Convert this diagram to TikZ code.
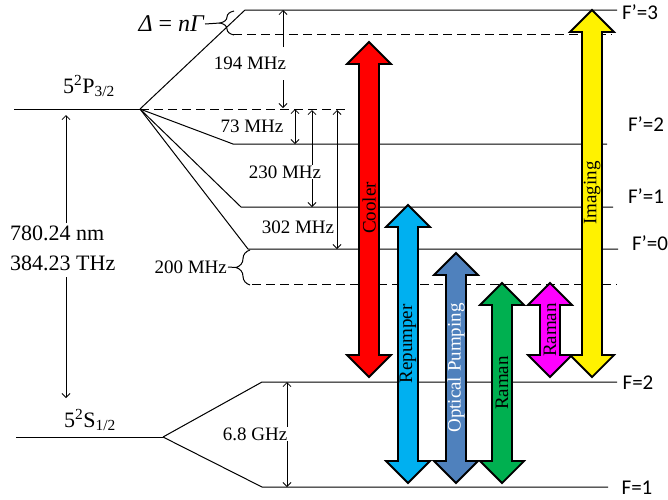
\documentclass[tikz,border=0pt]{standalone}
\usepackage{fontspec}
\setmainfont{Liberation Serif}
\newfontfamily\labfont{Carlito}
\usetikzlibrary{arrows.meta,decorations.pathreplacing}
\definecolor{repblue}{HTML}{00B0F0}
\definecolor{opblue}{HTML}{4F81BD}
\definecolor{ramgreen}{HTML}{00B050}
\definecolor{rammag}{HTML}{FF00FF}
\newcommand{\fsz}[1]{\fontsize{#1}{#1}\selectfont}
\newcommand{\blockarr}[4]{%
  \filldraw[fill=#4, draw=black, line width=1.8pt, line join=miter]
   (#1,#2) -- ++(22,22) -- ++(-12,0) -- (#1+10,#3-22) -- ++(12,0) -- (#1,#3)
   -- ++(-22,-22) -- ++(12,0) -- (#1-10,#2+22) -- ++(-12,0) -- cycle;}
\begin{document}
\begin{tikzpicture}[x=1pt,y=-1pt,
  lev/.style={line width=1pt},
  dlev/.style={line width=1pt, dash pattern=on 9pt off 5pt},
  mar/.style={line width=0.8pt,-{Straight Barb[length=4pt,width=8pt]}},
  dmar/.style={line width=0.8pt,{Straight Barb[length=4pt,width=8pt]}-{Straight Barb[length=4pt,width=8pt]}},
  lbl/.style={font=\fsz{19}, inner sep=1pt},
  big/.style={font=\fsz{22}},
  flab/.style={font=\labfont\fsz{21}, inner sep=0pt},
  atext/.style={rotate=90, font=\fsz{19}, inner sep=0pt},
  brc/.style={line width=1pt, decorate, decoration={brace, amplitude=14pt}}]

\useasboundingbox (0,0) rectangle (668,499);

% coordinates
\coordinate (P) at (140,109);
\coordinate (P0) at (14,109);
\coordinate (S) at (163,437);
\coordinate (S0) at (16,437);
\coordinate (F3a) at (245,10);  \coordinate (F3b) at (617,10);
\coordinate (Da) at (233,34);   \coordinate (Db) at (612,34);
\coordinate (Pd) at (348,109);
\coordinate (F2a) at (233,144); \coordinate (F2b) at (607,144);
\coordinate (F1a) at (241,207); \coordinate (F1b) at (613,207);
\coordinate (F0a) at (248,249); \coordinate (F0b) at (618,249);
\coordinate (Ea) at (252,284);  \coordinate (Eb) at (617,284);
\coordinate (G2a) at (262,382); \coordinate (G2b) at (617,382);
\coordinate (G1a) at (262,487); \coordinate (G1b) at (608,487);

% levels
\draw[lev] (P0) -- (P);
\draw[lev] (S0) -- (S);
\draw[lev] (P) -- (F3a) -- (F3b);
\draw[lev] (P) -- (F2a) -- (F2b);
\draw[lev] (P) -- (F1a) -- (F1b);
\draw[lev] (P) -- (F0a) -- (F0b);
\draw[dlev] (P) -- (Pd);
\draw[dlev] (Da) -- (Db);
\draw[dlev] (Ea) -- (Eb);
\draw[lev] (S) -- (G2a) -- (G2b);
\draw[lev] (S) -- (G1a) -- (G1b);

% braces
\draw[brc] (234,35) -- (234,11);
\node[font=\fsz{24}, anchor=east, inner sep=1pt] (delta) at (205,24) {{\itshape Δ} = {\itshape nΓ}};
\draw[lev] (220,23) -- (delta.east);
\draw[brc] (250,285) -- (250,250);
\node[lbl, anchor=east] (d200) at (228,267) {200 MHz};
\draw[lev] (236,267.5) -- (d200.east);

% state labels
\node[big] (p32) at (89,86) {5\textsuperscript{2}P\textsubscript{3/2}};
\node[big] (s12) at (90,420) {5\textsuperscript{2}S\textsubscript{1/2}};
\node[font=\fontsize{22}{30}\selectfont, align=left, anchor=west, inner sep=0pt] (wl) at (10,248) {780.24 nm\\384.23 THz};
\draw[mar] (66,223) -- (66,115);
\draw[mar] (66,277) -- (66,398);

% interval markers
\draw[mar] (283,47) -- (283,10);
\draw[mar] (283,80) -- (283,108);
\node[lbl] (m194) at (250,63) {194 MHz};
\draw[dmar] (295,109) -- (295,144);
\node[lbl] (m73) at (252,126) {73 MHz};
\draw[dmar] (312,110) -- (312,207);
\node[lbl, fill=white] (m230) at (285,172) {230 MHz};
\draw[dmar] (337,110) -- (337,249);
\node[lbl] (m302) at (298,227) {302 MHz};
\draw[dmar] (287,382) -- (287,487);
\node[lbl, fill=white] (m68) at (255,434) {6.8 GHz};

% block arrows
\blockarr{369}{42}{377}{red}
\blockarr{408}{205}{483}{repblue}
\blockarr{456}{253}{483}{opblue}
\blockarr{502}{283}{483}{ramgreen}
\blockarr{550}{283}{377}{rammag}
\blockarr{592}{10}{377}{yellow}
\node[atext] (tc) at (369,208) {Cooler};
\node[atext] (tr) at (408,344) {Repumper};
\node[atext, text=white] (to) at (456,368) {Optical Pumping};
\node[atext] (tg) at (502,383) {Raman};
\node[atext] (tm) at (550,330) {Raman};
\node[atext] (ti) at (592,193) {Imaging};

% hyperfine labels
\node[flab] (l3) at (640,12) {F’=3};
\node[flab] (l2) at (646,124) {F’=2};
\node[flab] (l1) at (646,196) {F’=1};
\node[flab] (l0) at (650,243) {F’=0};
\node[flab] (k2) at (638,383) {F=2};
\node[flab] (k1) at (637,488) {F=1};
\end{tikzpicture}
\end{document}
